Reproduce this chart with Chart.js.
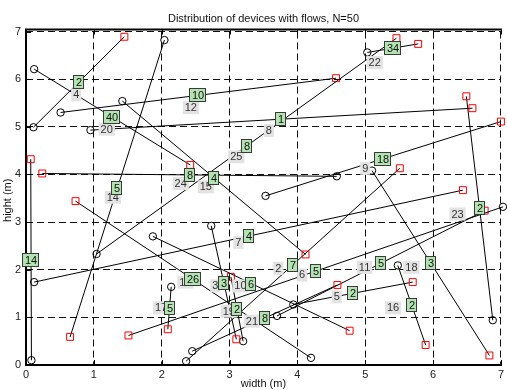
<!DOCTYPE html>
<html>
<head>
<meta charset="utf-8">
<script src="https://cdn.jsdelivr.net/npm/chart.js@4/dist/chart.umd.min.js"></script>
<style>
  html, body { margin: 0; padding: 0; background: #fff; }
  #c { display: block; }
</style>
</head>
<body>
<canvas id="c" width="507" height="390"></canvas>
<script>
// Device pairs: each flow runs from a start device (circle) to an end device (square).
const startX = [0.11, 0.12, 1.42, 4.58, 2.04, 1.04, 0.95, 0.51, 5.03, 6.88, 3.53, 0.12, 0.08, 4.20, 5.48, 5.10, 2.36, 2.45, 3.94, 2.14, 1.87, 2.73, 3.20, 7.03, 3.70];
const startY = [4.99, 6.21, 5.54, 3.96, 6.82, 2.33, 4.93, 5.30, 6.56, 0.94, 3.55, 1.74, 0.10, 0.15, 2.09, 4.08, 0.08, 0.29, 1.27, 1.64, 2.70, 2.92, 0.50, 3.32, 1.03];
const endX   = [1.45, 2.42, 4.12, 0.24, 0.65, 5.46, 6.58, 4.57, 5.78, 6.49, 7.00, 6.44, 0.07, 0.73, 5.89, 6.83, 5.51, 4.59, 5.70, 2.09, 4.77, 3.10, 3.02, 1.51, 6.76];
const endY   = [6.89, 4.20, 2.32, 4.02, 0.59, 6.86, 5.39, 6.02, 6.74, 5.64, 5.11, 3.67, 4.32, 3.44, 0.42, 0.20, 4.13, 1.68, 1.74, 0.75, 0.72, 0.54, 1.85, 0.62, 3.24];

// Number of flows on each link (green tags, placed at the link midpoint)
const flowCounts = ['2', '40', '4', '8', '5', '8', '1', '10', '34', '2', '18', '4', '14', '26', '2', '3', '7', '8', '2', '5', '6', '3', '2', '5', '5'];

// Pair ids (grey tags) and where they sit
const pairIds = ['4', '20', '15', '24', '14', '25', '8', '12', '22', '23', '9', '7', '', '13', '16', '18', '2', '21', '5', '17', '10', '3', '19', '6', '11'];
const pairIdX = [0.74, 1.19, 2.65, 2.28, 1.28, 3.10, 3.58, 2.43, 5.14, 6.36, 5.00, 3.13, null, 2.35, 5.41, 5.68, 3.72, 3.33, 4.58, 1.99, 3.16, 2.79, 2.99, 4.07, 4.99];
const pairIdY = [5.67, 4.95, 3.74, 3.81, 3.52, 4.37, 4.92, 5.40, 6.35, 3.17, 4.13, 2.57, null, 1.74, 1.20, 2.05, 2.03, 0.92, 1.43, 1.20, 1.66, 1.66, 1.13, 1.89, 2.05];

// Axis ticks
const xTicks = [0, 1, 2, 3, 4, 5, 6, 7];
const yTicks = [0, 1, 2, 3, 4, 5, 6, 7];

const titleText = 'Distribution of devices with flows, N=50';
const xTitle = 'width (m)';
const yTitle = 'hight (m)';

const FONT = '"Liberation Sans", Arial, Helvetica, sans-serif';

const datasets = startX.map((sx, i) => ({
  data: [{ x: sx, y: startY[i] }, { x: endX[i], y: endY[i] }],
  showLine: true,
  borderColor: '#000',
  borderWidth: 1,
  pointStyle: (c) => c.dataIndex === 0 ? 'circle' : 'rect',
  pointRadius: (c) => c.dataIndex === 0 ? 3.7 : 4.9,
  pointBorderColor: (c) => c.dataIndex === 0 ? '#000' : '#ff0000',
  pointBackgroundColor: 'rgba(0,0,0,0)',
  pointBorderWidth: 1,
  clip: false
}));

const decorations = {
  id: 'decorations',
  beforeDraw(chart) {
    const { ctx, width, height } = chart;
    ctx.save();
    ctx.fillStyle = '#fff';
    ctx.fillRect(0, 0, width, height);
    ctx.restore();
  },
  afterDatasetsDraw(chart) {
    const { ctx, chartArea: a, scales: { x, y } } = chart;
    ctx.save();

    // axes frame
    ctx.strokeStyle = '#000';
    ctx.lineWidth = 2;
    ctx.setLineDash([]);
    ctx.beginPath();
    ctx.moveTo(a.left, a.top - 2);
    ctx.lineTo(a.right + 1, a.top - 2);
    ctx.moveTo(a.left, a.top - 3);
    ctx.lineTo(a.left, a.bottom);
    ctx.lineTo(a.right + 1, a.bottom);
    ctx.stroke();

    // inward tick marks
    ctx.lineWidth = 1;
    ctx.beginPath();
    xTicks.forEach(v => {
      const px = Math.round(x.getPixelForValue(v)) + 0.5;
      ctx.moveTo(px, a.bottom); ctx.lineTo(px, a.bottom - 5);
      ctx.moveTo(px, a.top - 2); ctx.lineTo(px, a.top + 3);
    });
    yTicks.forEach(v => {
      const py = Math.round(y.getPixelForValue(v)) + 0.5;
      ctx.moveTo(a.left, py); ctx.lineTo(a.left + 5, py);
    });
    ctx.stroke();

    ctx.font = '11px ' + FONT;
    ctx.textAlign = 'center';
    ctx.textBaseline = 'middle';

    // grey pair-id tags
    pairIds.forEach((t, i) => {
      if (!t) return;
      const px = x.getPixelForValue(pairIdX[i]);
      const py = y.getPixelForValue(pairIdY[i]);
      const w = ctx.measureText(t).width + 4;
      const h = 13;
      ctx.fillStyle = '#e3e3e3';
      ctx.fillRect(px - w / 2, py - h / 2, w, h);
      ctx.fillStyle = '#333';
      ctx.fillText(t, px, py + 0.5);
    });

    // green flow-count tags at link midpoints
    flowCounts.forEach((t, i) => {
      const px = Math.round(x.getPixelForValue((startX[i] + endX[i]) / 2));
      const py = Math.round(y.getPixelForValue((startY[i] + endY[i]) / 2));
      const w = Math.round(ctx.measureText(t).width) + 5;
      const h = 14;
      const l = px - Math.round(w / 2), tp = py - h / 2;
      ctx.fillStyle = '#b2e3b0';
      ctx.fillRect(l, tp, w, h);
      ctx.strokeStyle = '#3a3a3a';
      ctx.lineWidth = 1;
      ctx.strokeRect(l + 0.5, tp + 0.5, w - 1, h - 1);
      ctx.fillStyle = '#111';
      ctx.fillText(t, px, py + 0.5);
    });

    // titles
    ctx.fillStyle = '#111';
    ctx.font = '11px ' + FONT;
    ctx.fillText(titleText, (a.left + a.right) / 2, 19);
    ctx.fillText(xTitle, (a.left + a.right) / 2, 384);
    ctx.translate(8, (a.top + a.bottom) / 2 + 2);
    ctx.rotate(-Math.PI / 2);
    ctx.fillText(yTitle, 0, 0);

    ctx.restore();
  }
};

new Chart(document.getElementById('c'), {
  type: 'scatter',
  data: { datasets },
  plugins: [decorations],
  options: {
    responsive: false,
    animation: false,
    devicePixelRatio: 1,
    layout: { padding: { top: 31.5, right: 3.7, left: 0, bottom: 0 } },
    plugins: { legend: { display: false }, tooltip: { enabled: false }, title: { display: false } },
    scales: {
      x: {
        type: 'linear', min: 0, max: 7,
        afterBuildTicks: (s) => { s.ticks = xTicks.map(v => ({ value: v })); },
        afterFit: (s) => { s.height = 25; },
        ticks: { stepSize: 1, padding: 3, color: '#222', font: { size: 11, family: FONT }, maxRotation: 0 },
        grid: { color: '#111', lineWidth: 1, drawTicks: false },
        border: { display: false, dash: [7, 4] }
      },
      y: {
        type: 'linear', min: 0, max: 7,
        afterBuildTicks: (s) => { s.ticks = yTicks.map(v => ({ value: v })); },
        afterFit: (s) => { s.width = 26; },
        ticks: { stepSize: 1, padding: 5, color: '#222', font: { size: 11, family: FONT } },
        grid: { color: '#111', lineWidth: 1, drawTicks: false },
        border: { display: false, dash: [7, 4] }
      }
    }
  }
});
</script>
</body>
</html>
